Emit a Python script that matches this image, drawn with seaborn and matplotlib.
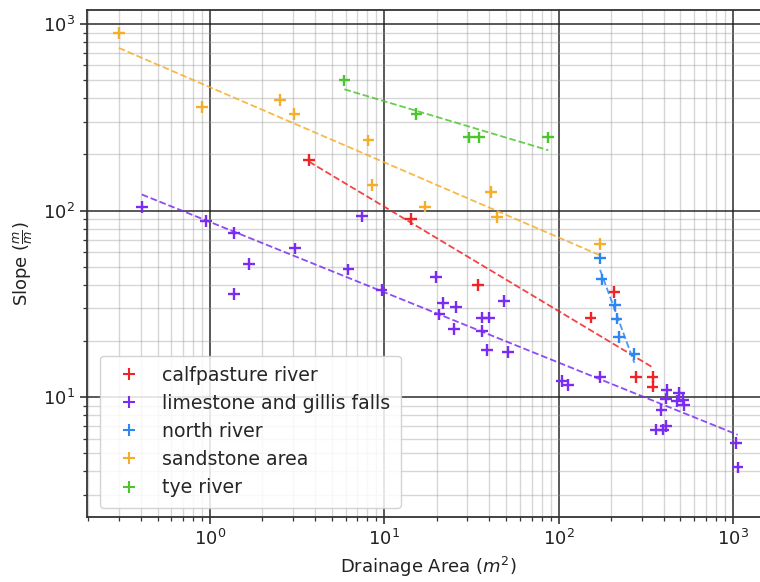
import numpy as np
import pandas as pd
import matplotlib
matplotlib.use("Agg")
import matplotlib.pyplot as plt
import seaborn as sns
from matplotlib.lines import Line2D

# ---- data ----
calf_x = [3.70, 14.2, 34.6, 152.8, 209, 278, 346.5, 346.5]
calf_y = [186.6, 90, 39.9, 26.7, 36.7, 12.85, 12.85, 11.4]

lime_x = [0.406, 0.948, 1.379, 1.379, 1.674, 3.07, 6.22, 7.48, 9.66, 19.8,
          21.8, 20.7, 25.8, 25.2, 36.2, 39.9, 36.5, 38.7, 51.4, 48.8,
          104.2, 113.7, 173, 417, 413, 492, 476, 519, 524, 389,
          362, 399, 413, 1042, 1065]
lime_y = [104.8, 88.2, 76.0, 35.7, 51.7, 62.7, 48.4, 93.8, 37.5, 44.2,
          32.0, 27.8, 30.5, 23.2, 26.7, 26.7, 22.7, 17.9, 17.5, 32.8,
          12.2, 11.6, 12.85, 10.9, 9.84, 10.5, 9.52, 9.64, 9.06, 8.52,
          6.71, 6.71, 6.99, 5.69, 4.20]

north_x = [173, 176.6, 210.7, 215.3, 222, 272]
north_y = [55.4, 42.8, 31.1, 26.4, 21.1, 17.0]

sand_x = [0.30, 0.90, 2.52, 3.05, 8.1, 8.54, 17.1, 40.8, 44.2, 173]
sand_y = [895, 359, 391, 330, 238, 137, 105, 126, 92, 66]

tye_x = [5.90, 15.3, 30.6, 35.1, 87.3]
tye_y = [499, 329, 247, 247, 247]

names = ["calfpasture river", "limestone and gillis falls", "north river",
         "sandstone area", "tye river"]
colors = ["#f02424", "#7a2cf2", "#2e86f2", "#f5ae28", "#4cc62c"]

series = [(calf_x, calf_y), (lime_x, lime_y), (north_x, north_y),
          (sand_x, sand_y), (tye_x, tye_y)]

rows = []
for n, (xs, ys) in zip(names, series):
    for a, b in zip(xs, ys):
        rows.append({"area": a, "slope": b, "region": n})
df = pd.DataFrame(rows)

sns.set_style("white")
plt.rcParams["font.family"] = ["DejaVu Sans"]

fig = plt.figure(figsize=(7.6, 5.82), dpi=100)
ax = fig.add_axes([87/760, (582-517)/582, (770-87)/760, (517-10)/582])

ax.set_xscale("log")
ax.set_yscale("log")

sns.scatterplot(data=df, x="area", y="slope", hue="region", hue_order=names,
                palette=dict(zip(names, colors)), marker="+", s=70,
                linewidth=1.7, ax=ax, legend=False, zorder=3)

for (xs, ys), c in zip(series, colors):
    lx = np.log10(xs)
    ly = np.log10(ys)
    k, b = np.polyfit(lx, ly, 1)
    xx = np.array([min(xs), max(xs)])
    ax.plot(xx, 10 ** (k * np.log10(xx) + b), ls="--", color=c, lw=1.3,
            alpha=0.85, zorder=2)

ax.set_xlim(0.197, 1633)
ax.set_ylim(2.28, 1189)

ax.grid(which="major", color="#1a1a1a", lw=1.2, alpha=0.85)
ax.grid(which="minor", color="#999999", lw=1.0, alpha=0.4)
ax.set_axisbelow(True)

for s in ax.spines.values():
    s.set_color("#333333")
    s.set_linewidth(1.3)
ax.tick_params(which="major", direction="out", length=5, width=1.2,
               labelsize=13, left=True, bottom=True, colors="#333333")
ax.tick_params(which="minor", direction="out", length=3, width=0.9,
               left=True, bottom=True, colors="#333333")
ax.tick_params(labelcolor="#222222")

ax.set_xlabel("Drainage Area ($m^2$)", fontsize=13, color="#222222")
ax.set_ylabel(r"Slope ($\frac{m}{m}$)", fontsize=13, color="#222222",
              labelpad=6)

handles = [Line2D([], [], marker="+", ls="none", color=c, markersize=8,
                  markeredgewidth=1.5) for c in colors]
leg = ax.legend(handles, names, loc="lower left", fontsize=13.6,
                frameon=True, borderpad=0.55, handletextpad=0.75,
                labelspacing=0.48, bbox_to_anchor=(0.005, 0.0))
leg.get_frame().set_edgecolor("#cccccc")
leg.get_frame().set_alpha(0.85)

fig.savefig("out.png", dpi=100)
